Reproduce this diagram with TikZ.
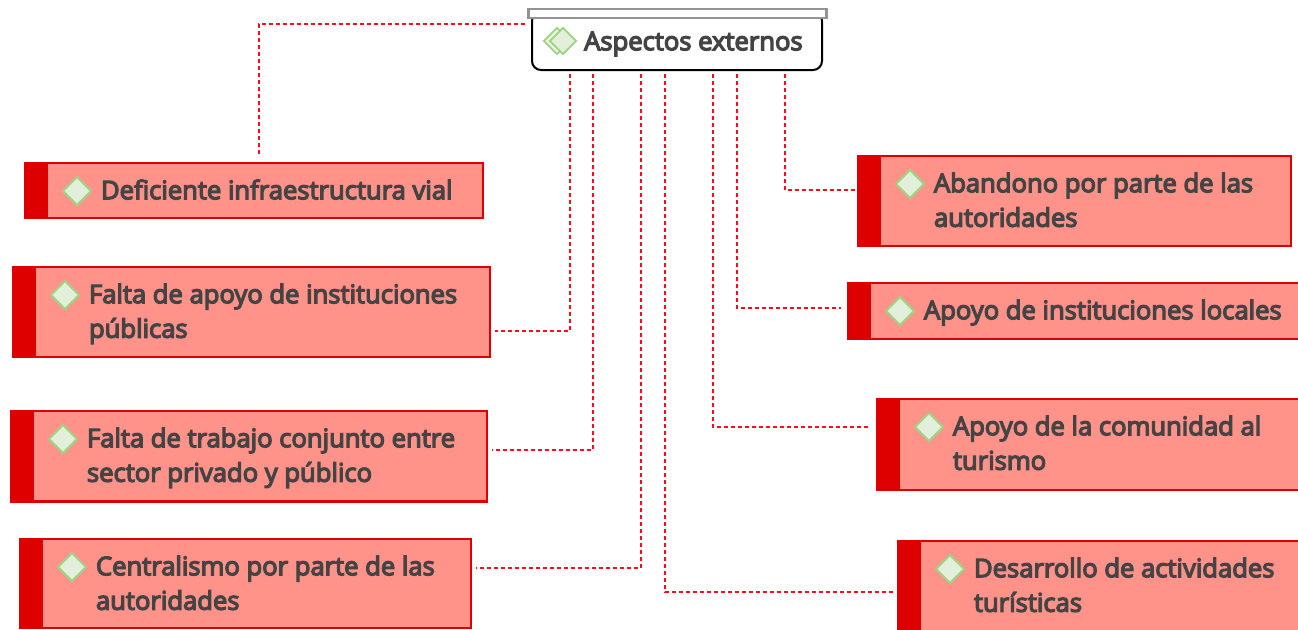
\documentclass[tikz,border=0pt]{standalone}
\usepackage{fontspec}
\setmainfont{Open Sans}[RawFeature={embolden=5}]
\usetikzlibrary{shapes.geometric,calc}
\definecolor{boxred}{HTML}{DE0000}
\definecolor{boxfill}{HTML}{FF9389}
\definecolor{txt}{HTML}{444444}
\definecolor{dfill}{HTML}{E2EFDA}
\definecolor{dline}{HTML}{9FD283}
\definecolor{linkred}{HTML}{FF0A1E}
\tikzset{
  x=1pt,y=-1pt,
  topicbox/.style={draw=boxred,line width=2.4pt,fill=boxfill,inner sep=0pt,outer sep=0pt},
  stripbox/.style={fill=boxred,inner sep=0pt,outer sep=0pt},
  mark diamond/.style={diamond,aspect=1,draw=dline,line width=2pt,fill=dfill,minimum size=29pt,inner sep=0pt},
  label text/.style={text=txt,font=\fontsize{25.6pt}{34.5pt}\selectfont,align=left,anchor=north west,inner sep=0pt},
  link/.style={draw=linkred,line width=2.3pt,dash pattern=on 4pt off 3pt},
}
\newcommand{\firstline}{\rule{0pt}{24pt}}
% #1 name, #2 left, #3 top, #4 right, #5 bottom, #6 text
\newcommand{\topicnode}[6]{%
  \node[topicbox,minimum width={(#4-#2)*1pt},minimum height={(#5-#3)*1pt}] (#1) at ({(#2+#4)/2},{(#3+#5)/2}) {};
  \node[stripbox,minimum width=23pt,minimum height={(#5-#3)*1pt}] (#1s) at ({#2+11.5},{(#3+#5)/2}) {};
  \node[mark diamond] (#1d) at ({#2+52},{#3+28}) {};
  \node[label text] (#1t) at ({#2+75.8},{#3+36-24}) {\firstline #6};
}
\begin{document}
\begin{tikzpicture}
\useasboundingbox (0,0) rectangle (1298,629);
\clip (0,0) rectangle (1298,629);
% central topic
\node[draw=black,line width=2pt,rounded corners=9pt,fill=white,minimum width=290pt,minimum height=58pt,inner sep=0pt,outer sep=0pt] (top) at (677,41) {};
\node[draw=gray!85,line width=2.4pt,fill=white,minimum width=298pt,minimum height=9pt,inner sep=0pt,outer sep=0pt] (bar) at (677.5,13.5) {};
\node[diamond,aspect=1,draw=dline,line width=1.8pt,fill=dfill!70,minimum size=27pt,inner sep=0pt] (topd2) at (557,41) {};
\node[diamond,aspect=1,draw=dline,line width=1.8pt,fill=dfill,minimum size=27pt,inner sep=0pt] (topd) at (563,41) {};
\node[label text] (topt) at (584,26) {\firstline Aspectos externos};
% topics
\topicnode{a}{25}{163}{483}{218}{Deficiente infraestructura vial}
\topicnode{b}{13}{267}{490}{357}{Falta de apoyo de instituciones\\públicas}
\topicnode{c}{11}{411}{487}{501.5}{Falta de trabajo conjunto entre\\sector privado y público}
\topicnode{d}{20}{539}{471}{628}{Centralismo por parte de las\\autoridades}
\topicnode{e}{858}{156}{1291}{246}{Abandono por parte de las\\autoridades}
\topicnode{f}{848}{283}{1320}{339}{Apoyo de instituciones locales}
\topicnode{g}{877}{399}{1320}{490}{Apoyo de la comunidad al\\turismo}
\topicnode{h}{898}{541}{1320}{640}{Desarrollo de actividades\\turísticas}
% connectors
\coordinate (la) at ($(a.north west)+(234,-8)$);
\draw[link] ($(top.north west)+(-7,12)$) -| (la);
\draw[link] ($(top.south west)+(38,4)$) |- ($(b.east)+(5,19)$);
\draw[link] ($(top.south west)+(61,4)$) |- ($(c.east)+(5,-6)$);
\draw[link] ($(top.south west)+(109,4)$) |- ($(d.north east)+(5,29)$);
\draw[link] ($(top.south west)+(133,4)$) |- ($(h.north west)+(-5,51)$);
\draw[link] ($(top.south west)+(181,4)$) |- ($(g.north west)+(-7,28)$);
\draw[link] ($(top.south west)+(205,4)$) |- ($(f.west)+(-7,-3)$);
\draw[link] ($(top.south west)+(253,4)$) |- ($(e.west)+(-3,-11)$);
\end{tikzpicture}
\end{document}
